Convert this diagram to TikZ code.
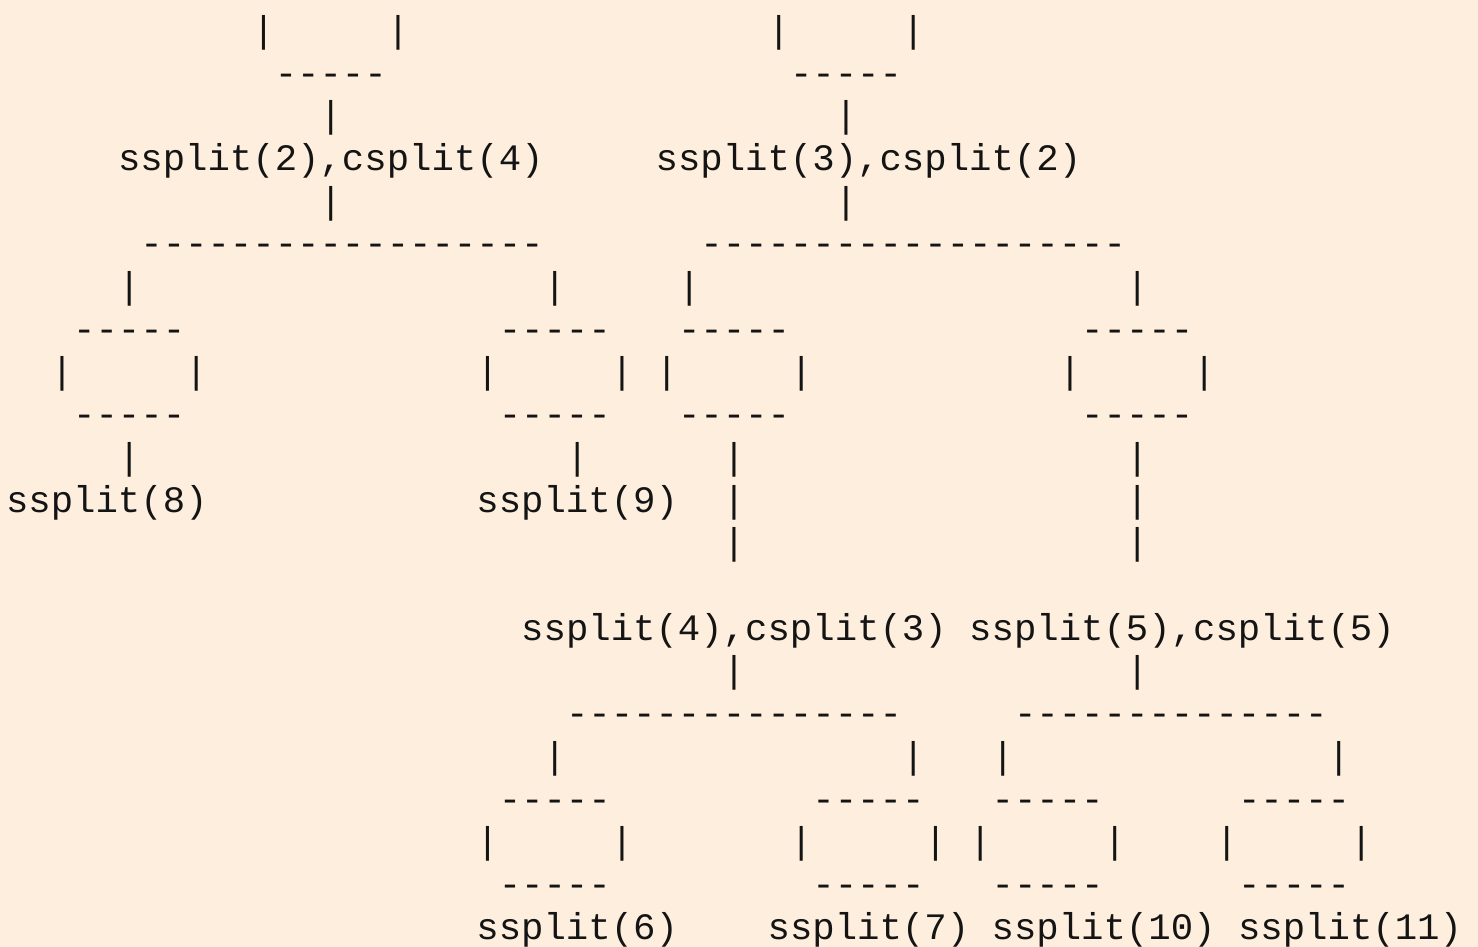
\documentclass[tikz,border=0pt]{standalone}
\usepackage{fontspec}
\setmonofont{Liberation Mono}
\definecolor{paper}{RGB}{254,238,222}
\definecolor{ink}{RGB}{20,20,20}
% character grid: cell width and line pitch, in pt
\newcommand\cellw{22.4}
\newcommand\pitch{42.71}
% place a run of characters at (row, column)
\newcommand\asc[4]{\node[txt] (#1) at ({6+\cellw*#3},{42.3+\pitch*#2}) {#4};}
% a row of single bars at the given columns
\newcommand\bars[2]{\foreach \c in {#2} {\node[txt] (bar-#1-\c) at ({6+\cellw*\c},{42.3+\pitch*#1}) {|};}}
% a row of five-dash box edges at the given columns
\newcommand\lids[2]{\foreach \c in {#2} {\node[txt] (lid-#1-\c) at ({6+\cellw*\c},{42.3+\pitch*#1}) {-----};}}
\begin{document}
\begin{tikzpicture}[x=1pt,y=-1pt,
  txt/.style={anchor=base west,inner sep=0pt,outer sep=0pt,
    font=\ttfamily\fontsize{37.33}{42.7}\selectfont,text=ink}]
\fill[paper] (0,0) rectangle (1478,947);
\useasboundingbox (0,0) rectangle (1478,947);

% upper level
\bars{0}{11,17,34,40}
\lids{1}{12,35}
\bars{2}{14,37}
\asc{l3a}{3}{5}{ssplit(2),csplit(4)}
\asc{l3b}{3}{29}{ssplit(3),csplit(2)}
\bars{4}{14,37}
\asc{l5a}{5}{6}{------------------}
\asc{l5b}{5}{31}{-------------------}
\bars{6}{5,24,30,50}
\lids{7}{3,22,30,48}
\bars{8}{2,8,21,27,29,35,47,53}
\lids{9}{3,22,30,48}
\bars{10}{5,25,32,50}
\asc{l11a}{11}{0}{ssplit(8)}
\asc{l11b}{11}{21}{ssplit(9)}
\bars{11}{32,50}
\bars{12}{32,50}

% lower level
\asc{l14a}{14}{23}{ssplit(4),csplit(3)}
\asc{l14b}{14}{43}{ssplit(5),csplit(5)}
\bars{15}{32,50}
\asc{l16a}{16}{25}{---------------}
\asc{l16b}{16}{45}{--------------}
\bars{17}{24,40,44,59}
\lids{18}{22,36,44,55}
\bars{19}{21,27,35,41,43,49,54,60}
\lids{20}{22,36,44,55}
\asc{l21a}{21}{21}{ssplit(6)}
\asc{l21b}{21}{34}{ssplit(7)}
\asc{l21c}{21}{44}{ssplit(10)}
\asc{l21d}{21}{55}{ssplit(11)}
\end{tikzpicture}
\end{document}
